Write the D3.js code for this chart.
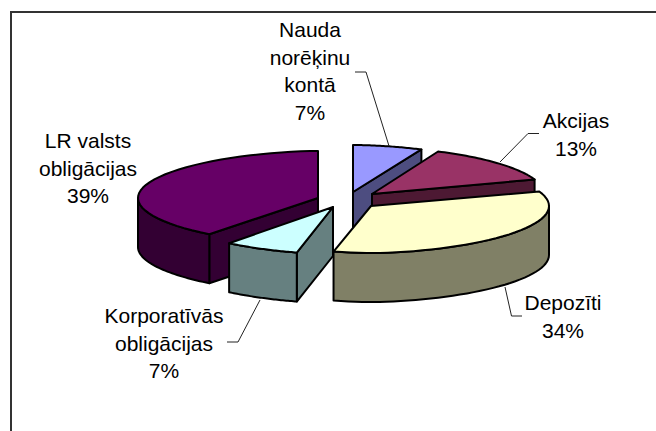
<!DOCTYPE html>
<html>
<head>
<meta charset="utf-8">
<script src="https://cdn.jsdelivr.net/npm/d3@7"></script>
<style>
  html, body { margin: 0; padding: 0; background: #fff; }
  svg { display: block; }
  text { font-family: "Liberation Sans", Arial, sans-serif; font-size: 21px; fill: #000; }
</style>
</head>
<body>
<svg id="chart"></svg>
<script>
var categories = ["Nauda norēķinu kontā", "Akcijas", "Depozīti", "Korporatīvās obligācijas", "LR valsts obligācijas"];
var shares = [7, 13, 34, 7, 39];
var labelLines = [
  ["Nauda", "norēķinu", "kontā", "7%"],
  ["Akcijas", "13%"],
  ["Depozīti", "34%"],
  ["Korporatīvās", "obligācijas", "7%"],
  ["LR valsts", "obligācijas", "39%"]
];
var topColors = ["#9999ff", "#993366", "#ffffcc", "#ccffff", "#660066"];
var sideColors = ["#4d4d80", "#4d1933", "#808066", "#668080", "#330033"];

// layout
var width = 656, height = 431;
var ry = 47, depth = 49;
var radii = [178, 172, 178, 172, 180];
var centers = [[353, 192], [372, 194], [371, 206], [333, 207], [318, 198]];
var labelPos = [[310, 37], [576, 128], [563, 310], [164, 323], [88, 148]];
var leaders = [
  [[355, 72], [366, 72], [389, 146]],
  [[539, 133.5], [528, 133.5], [500, 162]],
  [[522, 316], [511.5, 316], [505, 287]],
  [[227, 342], [238, 342], [260, 300]],
  []
];
var drawOrder = [0, 4, 1, 3, 2];

var svg = d3.select("#chart").attr("width", width).attr("height", height);

svg.append("path")
   .attr("d", d3.line()([[11, height], [11, 12], [width, 12]]))
   .attr("fill", "none").attr("stroke", "#333").attr("stroke-width", 2);

var slices = d3.pie().sort(null).value(function(d){ return d; })(shares);

// pie angle (0 = up, clockwise) to the flattened rim.
// the rim in the picture is a bit narrower than a true ellipse, hence the power
function px(i, a){
  var s = Math.sin(a);
  return centers[i][0] + radii[i] * (s < 0 ? -1 : 1) * Math.pow(Math.abs(s), 1.12);
}
function py(i, a){ return centers[i][1] - ry * Math.cos(a); }

function rimPoints(i, a0, a1, dy){
  var n = 40;
  var angle = d3.scaleLinear().domain([0, n]).range([a0, a1]);
  return d3.range(n + 1).map(function(k){
    return [px(i, angle(k)), py(i, angle(k)) + dy];
  });
}

var line = d3.line();

function radialWall(i, a){
  var c = centers[i];
  var p = [px(i, a), py(i, a)];
  return line([c, p, [p[0], p[1] + depth], [c[0], c[1] + depth]]) + "Z";
}

function rimWall(i, a0, a1){
  var top = rimPoints(i, a0, a1, 0);
  var bottom = rimPoints(i, a0, a1, depth).reverse();
  return line(top.concat(bottom)) + "Z";
}

drawOrder.forEach(function(i){
  var s = slices[i];
  var g = svg.append("g")
    .attr("stroke", "#000").attr("stroke-width", 2).attr("stroke-linejoin", "round");

  // only the cut faces that look towards the viewer
  if (Math.sin(s.endAngle) > 0.001) {
    g.append("path").attr("d", radialWall(i, s.endAngle)).attr("fill", sideColors[i]);
  }
  if (Math.sin(s.startAngle) < -0.001) {
    g.append("path").attr("d", radialWall(i, s.startAngle)).attr("fill", sideColors[i]);
  }
  var a0 = Math.max(s.startAngle, Math.PI / 2);
  var a1 = Math.min(s.endAngle, Math.PI * 1.5);
  if (a1 > a0) {
    g.append("path").attr("d", rimWall(i, a0, a1)).attr("fill", sideColors[i]);
  }
  g.append("path")
   .attr("d", line([centers[i]].concat(rimPoints(i, s.startAngle, s.endAngle, 0))) + "Z")
   .attr("fill", topColors[i]);
});

leaders.forEach(function(pts){
  if (pts.length) {
    svg.append("path").attr("d", line(pts))
       .attr("fill", "none").attr("stroke", "#222").attr("stroke-width", 1);
  }
});

labelLines.forEach(function(lines, i){
  var t = svg.append("text").attr("text-anchor", "middle");
  lines.forEach(function(l, k){
    t.append("tspan")
     .attr("x", labelPos[i][0])
     .attr("y", labelPos[i][1] + k * 27.7)
     .text(l);
  });
});
</script>
</body>
</html>
